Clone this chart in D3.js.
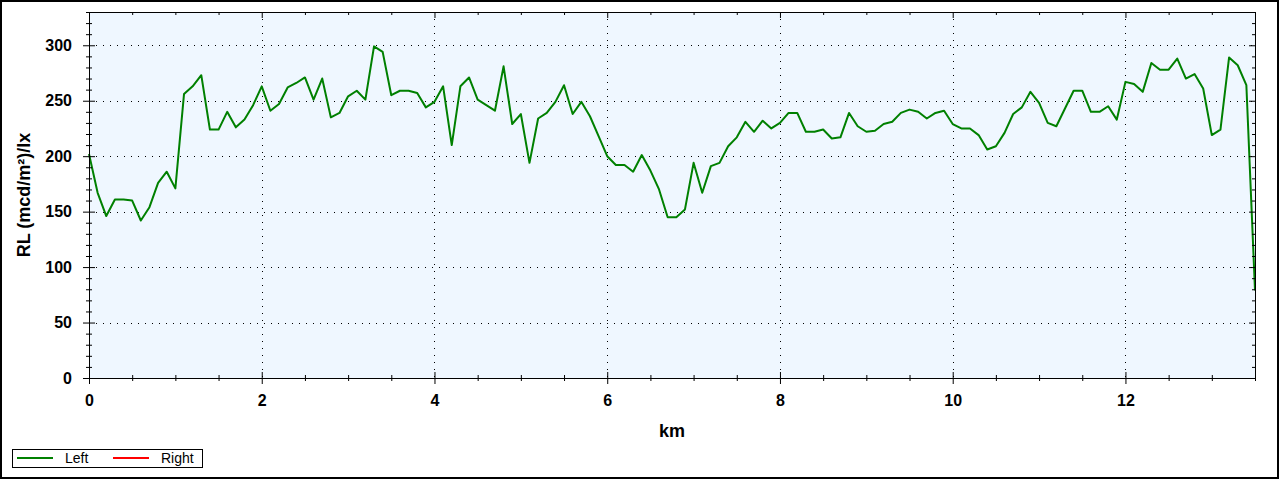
<!DOCTYPE html>
<html>
<head>
<meta charset="utf-8">
<script src="https://cdn.jsdelivr.net/npm/d3@7"></script>
<style>
  body { margin: 0; background: #fff; }
  svg { display: block; font-family: "Liberation Sans", Arial, sans-serif; }
</style>
</head>
<body>
<svg class="grafico" width="1280" height="480"></svg>
<script>
// dados (RL a cada 0,1 km, lado esquerdo)
const KM_START = 0;
const KM_STEP = 0.1;
const rl_left = [
  202, 167, 146, 161, 161, 160, 142, 154, 176, 186,
  171, 256, 263, 273, 224, 224, 240, 226, 233, 246,
  263, 241, 247, 262, 266, 271, 251, 270, 235, 239,
  254, 259, 251, 299, 294, 255, 259, 259, 257, 244,
  249, 263, 210, 263, 271, 251, 246, 241, 281, 229,
  238, 194, 234, 239, 249, 264, 238, 249, 236, 218,
  200, 192, 192, 186, 201, 187, 170, 145, 145, 152,
  194, 167, 191, 194, 209, 217, 231, 222, 232, 225,
  230, 239, 239, 222, 222, 224, 216, 217, 239, 227,
  222, 223, 229, 231, 239, 242, 240, 234, 239, 241,
  229, 225, 225, 219, 206, 209, 221, 238, 244, 258,
  248, 230, 227, 243, 259, 259, 240, 240, 245, 233,
  267, 265, 258, 284, 278, 278, 288, 270, 274, 261,
  219, 224, 289, 282, 264, 79
];
// lado direito não tem dados, só aparece na legenda
const rl_right = [];

const series_names = ["Left", "Right"];
const series_colors = ["#008000", "#ff0000"];

const x_domain = [0, 13.5];
const y_domain = [0, 330];
const x_major = [0, 2, 4, 6, 8, 10, 12];
const y_major = [0, 50, 100, 150, 200, 250, 300];

const x_title = "km";
const y_title = "RL (mcd/m²)/lx";

// layout
const W = 1280, H = 480;
const PLOT = { left: 89, top: 12, right: 1255, bottom: 378 };
const pw = PLOT.right - PLOT.left;
const ph = PLOT.bottom - PLOT.top;

const $svg = d3.select(".grafico");

// borda externa
$svg.append("rect")
  .attr("x", 1).attr("y", 1)
  .attr("width", W - 3).attr("height", H - 3)
  .attr("fill", "#fff")
  .attr("stroke", "#000")
  .attr("stroke-width", 2);

const g = $svg.append("g")
  .attr("transform", `translate(${PLOT.left},${PLOT.top})`);

g.append("rect")
  .attr("width", pw).attr("height", ph)
  .attr("fill", "#eff7ff");

const x = d3.scaleLinear().domain(x_domain).range([0, pw]);
const y = d3.scaleLinear().domain(y_domain).range([ph, 0]);

const x_minor = d3.range(0.5, x_domain[1] + 0.01, 0.5).filter(v => !x_major.includes(v));
const y_minor = d3.range(10, y_domain[1] + 1, 10).filter(v => !y_major.includes(v));

// grade pontilhada
g.append("g").selectAll("line")
  .data(x_major.filter(v => v > 0))
  .join("line")
  .attr("x1", d => Math.round(x(d)) + 0.5).attr("x2", d => Math.round(x(d)) + 0.5)
  .attr("y1", 0).attr("y2", ph)
  .attr("stroke", "#000").attr("stroke-dasharray", "1,6");

g.append("g").selectAll("line")
  .data(y_major.filter(v => v > 0))
  .join("line")
  .attr("y1", d => Math.round(y(d)) + 0.5).attr("y2", d => Math.round(y(d)) + 0.5)
  .attr("x1", 0).attr("x2", pw)
  .attr("stroke", "#000").attr("stroke-dasharray", "1,6");

// linhas das séries
const pts_left = rl_left.map((v, i) => ({ km: KM_START + i * KM_STEP, rl: v }));
const line = d3.line().x(d => x(d.km)).y(d => y(d.rl));

g.append("path")
  .datum(pts_left)
  .attr("d", line)
  .attr("fill", "none")
  .attr("stroke", series_colors[0])
  .attr("stroke-width", 2)
  .attr("stroke-linejoin", "round");

g.append("path")
  .datum(rl_right)
  .attr("d", line)
  .attr("fill", "none")
  .attr("stroke", series_colors[1])
  .attr("stroke-width", 2);

// eixos
const fmt = d3.format("d");

const ax_left = g.append("g")
  .call(d3.axisLeft(y).tickValues(y_major).tickFormat(fmt).tickSizeInner(6).tickSizeOuter(0).tickPadding(11));
ax_left.selectAll(".tick line").attr("x1", 6);

const ax_left_min = g.append("g")
  .call(d3.axisLeft(y).tickValues(y_minor).tickFormat("").tickSize(3));
ax_left_min.select(".domain").remove();
ax_left_min.selectAll(".tick line").attr("x1", 3);

const ax_bottom = g.append("g")
  .attr("transform", `translate(0,${ph})`)
  .call(d3.axisBottom(x).tickValues(x_major).tickFormat(fmt).tickSizeInner(6).tickSizeOuter(0).tickPadding(11));
ax_bottom.selectAll(".tick line").attr("y1", -6);

const ax_bottom_min = g.append("g")
  .attr("transform", `translate(0,${ph})`)
  .call(d3.axisBottom(x).tickValues(x_minor).tickFormat("").tickSize(3));
ax_bottom_min.select(".domain").remove();
ax_bottom_min.selectAll(".tick line").attr("y1", -3);

// eixos espelho (só marcas, para dentro)
g.append("g")
  .attr("transform", `translate(${pw},0)`)
  .call(d3.axisRight(y).tickValues(y_major).tickFormat("").tickSizeInner(-6).tickSizeOuter(0));
g.append("g")
  .attr("transform", `translate(${pw},0)`)
  .call(d3.axisRight(y).tickValues(y_minor).tickFormat("").tickSize(-3))
  .select(".domain").remove();

g.append("g")
  .call(d3.axisTop(x).tickValues(x_major).tickFormat("").tickSizeInner(-6).tickSizeOuter(0));
g.append("g")
  .call(d3.axisTop(x).tickValues(x_minor).tickFormat("").tickSize(-3))
  .select(".domain").remove();

g.selectAll(".tick text")
  .attr("font-size", 16)
  .attr("font-weight", "bold")
  .attr("font-family", "'Liberation Sans', Arial, sans-serif")
  .attr("fill", "#000");
g.selectAll(".domain, .tick line").attr("stroke", "#000");

// títulos
$svg.append("text")
  .attr("x", PLOT.left + pw / 2)
  .attr("y", 437)
  .attr("text-anchor", "middle")
  .attr("font-size", 18)
  .attr("font-weight", "bold")
  .text(x_title);

$svg.append("text")
  .attr("transform", `translate(30,${PLOT.top + ph / 2}) rotate(-90)`)
  .attr("text-anchor", "middle")
  .attr("font-size", 18)
  .attr("font-weight", "bold")
  .text(y_title);

// legenda
const leg = $svg.append("g");
leg.append("rect")
  .attr("x", 12.5).attr("y", 449.5)
  .attr("width", 190).attr("height", 18)
  .attr("fill", "#fff").attr("stroke", "#000");

const leg_x = [17, 113];
series_names.forEach(function(nome, i) {
  leg.append("line")
    .attr("x1", leg_x[i]).attr("x2", leg_x[i] + 36)
    .attr("y1", 458).attr("y2", 458)
    .attr("stroke", series_colors[i]).attr("stroke-width", 2);
  leg.append("text")
    .attr("x", leg_x[i] + 48).attr("y", 463)
    .attr("font-size", 14)
    .text(nome);
});
</script>
</body>
</html>
